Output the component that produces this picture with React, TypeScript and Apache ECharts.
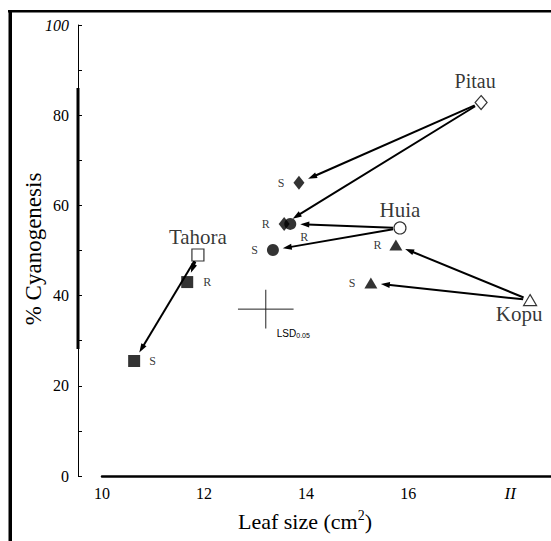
import React, { useEffect, useRef } from "react";
import * as echarts from "echarts";

// Cultivars: parent (open symbol) and its R / S derivatives (filled symbols)
const cultivars = ["Tahora", "Pitau", "Huia", "Kopu"];
const symbols = ["rect", "diamond", "circle", "triangle"];
const parentX = [11.88, 17.43, 15.84, 18.39];
const parentY = [49.0, 82.8, 55.0, 39.0];
const rX = [11.67, 13.57, 13.69, 15.76];
const rY = [43.0, 55.9, 55.9, 51.2];
const sX = [10.63, 13.86, 13.35, 15.27];
const sY = [25.5, 65.0, 50.1, 42.8];

// LSD(0.05) cross: centre x, centre y, half-width (x), half-height (y)
const lsd = [13.21, 37.0, 0.545, 4.3];

const xTicks = [10, 12, 14, 16, 18];
const xTickLabels = ["10", "12", "14", "16", "II"];
const yTickLabels = ["0", "20", "40", "60", "80", "100"];

const SERIF = "'Liberation Serif', 'DejaVu Serif', serif";

export default function App() {
  const ref = useRef<HTMLDivElement>(null);

  useEffect(() => {
    if (!ref.current) return;
    const chart = echarts.init(ref.current, null, { renderer: "svg" });

    const symSize = (i: number, open: boolean) => {
      if (symbols[i] === "diamond") return open ? [12, 14] : [11, 14];
      if (symbols[i] === "triangle") return [13, 11];
      return 12;
    };

    const parentLabel = [
      { position: "top", distance: 1, offset: [0, 0], fontSize: 21 },
      { position: "top", distance: 4, offset: [-6, 0], fontSize: 20 },
      { position: "top", distance: 1, offset: [0, 0], fontSize: 21 },
      { position: "bottom", distance: 0, offset: [-11, -3], fontSize: 21 },
    ];
    const rLabel = [
      { position: "right", distance: 10, offset: [0, 0] },
      { position: "left", distance: 9, offset: [0, 0] },
      { position: "inside", distance: 0, offset: [14, 13] },
      { position: "left", distance: 8, offset: [0, 0] },
    ];
    const sLabel = [
      { position: "right", distance: 9, offset: [0, 0] },
      { position: "left", distance: 9, offset: [0, 0] },
      { position: "left", distance: 9, offset: [0, 0] },
      { position: "left", distance: 9, offset: [0, 0] },
    ];

    const parentData = cultivars.map((c, i) => ({
      name: c,
      value: [parentX[i], parentY[i]],
      symbol: symbols[i],
      symbolSize: symSize(i, true),
      label: {
        show: true,
        formatter: c,
        position: parentLabel[i].position,
        distance: parentLabel[i].distance,
        offset: parentLabel[i].offset,
        fontSize: parentLabel[i].fontSize,
        fontFamily: SERIF,
        color: "#000",
      },
    }));
    const rData = cultivars.map((c, i) => ({
      name: c + " R",
      value: [rX[i], rY[i]],
      symbol: symbols[i],
      symbolSize: symSize(i, false),
      label: {
        show: true,
        formatter: "R",
        position: rLabel[i].position,
        distance: rLabel[i].distance,
        offset: rLabel[i].offset,
        fontSize: 12,
        fontFamily: SERIF,
        color: "#000",
      },
    }));
    const sData = cultivars.map((c, i) => ({
      name: c + " S",
      value: [sX[i], sY[i]],
      symbol: symbols[i],
      symbolSize: symSize(i, false),
      label: {
        show: true,
        formatter: "S",
        position: sLabel[i].position,
        distance: sLabel[i].distance,
        offset: sLabel[i].offset,
        fontSize: 12,
        fontFamily: SERIF,
        color: "#000",
      },
    }));

    const arrowData: number[][] = [];
    cultivars.forEach((_, i) => {
      arrowData.push([parentX[i], parentY[i], rX[i], rY[i]]);
      arrowData.push([parentX[i], parentY[i], sX[i], sY[i]]);
    });

    const option: any = {
      animation: false,
      backgroundColor: "#fff",
      grid: { left: 102, top: 25, right: 0, height: 451, containLabel: false },
      xAxis: {
        type: "value",
        min: 10,
        max: 18.8,
        interval: 2,
        axisLine: { show: true, lineStyle: { color: "#000", width: 2.5 } },
        axisTick: { show: false },
        splitLine: { show: false },
        axisLabel: {
          showMaxLabel: false,
          margin: 9,
          fontSize: 16,
          fontFamily: SERIF,
          color: "#000",
          formatter: (v: number) => {
            const k = xTicks.indexOf(v);
            if (k < 0) return "";
            const t = xTickLabels[k];
            return t === "II" ? "{i|" + t + "}" : t;
          },
          rich: { i: { fontStyle: "italic", fontSize: 17, fontFamily: SERIF, color: "#000" } },
        },
      },
      yAxis: {
        type: "value",
        min: 0,
        max: 100,
        interval: 10,
        offset: 24,
        axisLine: { show: true, lineStyle: { color: "#000", width: 1 } },
        axisTick: { show: true, inside: true, length: 4, lineStyle: { color: "#000", width: 1 } },
        splitLine: { show: false },
        axisLabel: {
          margin: 9,
          fontSize: 16,
          fontFamily: SERIF,
          color: "#000",
          formatter: (v: number) => {
            const t = String(v);
            if (yTickLabels.indexOf(t) < 0) return "";
            return t === "100" ? "{i|" + t + "}" : t;
          },
          rich: { i: { fontStyle: "italic", fontSize: 16, fontFamily: SERIF, color: "#000" } },
        },
      },
      graphic: [
        { type: "rect", shape: { x: 8, y: 10, width: 543, height: 2.5 }, style: { fill: "#000" } },
        { type: "rect", shape: { x: 8.5, y: 10, width: 3.5, height: 531 }, style: { fill: "#000" } },
        { type: "rect", shape: { x: 76.5, y: 88, width: 3, height: 261 }, style: { fill: "#000" } },
        {
          type: "text",
          x: 33,
          y: 249,
          rotation: Math.PI / 2,
          style: {
            text: "% Cyanogenesis",
            fontSize: 23,
            fontFamily: SERIF,
            fill: "#000",
            align: "center",
            verticalAlign: "middle",
          },
        },
        {
          type: "text",
          x: 305,
          y: 521,
          style: {
            text: "{a|Leaf size (cm}{s|2}{a|)}",
            rich: {
              a: { fontSize: 22, fontFamily: SERIF, fill: "#000", color: "#000" },
              s: { fontSize: 14, fontFamily: SERIF, fill: "#000", color: "#000", verticalAlign: "top", padding: [0, 0, 12, 0] },
            },
            align: "center",
            verticalAlign: "middle",
          },
        },
      ],
      series: [
        {
          type: "custom",
          name: "arrows",
          coordinateSystem: "cartesian2d",
          encode: { x: [0, 2], y: [1, 3] },
          data: arrowData,
          z: 1,
          renderItem: (params: any, api: any) => {
            const a = api.coord([api.value(0), api.value(1)]);
            const b = api.coord([api.value(2), api.value(3)]);
            const dx = b[0] - a[0];
            const dy = b[1] - a[1];
            const L = Math.hypot(dx, dy) || 1;
            const ux = dx / L;
            const uy = dy / L;
            const s = [a[0] + ux * 7, a[1] + uy * 7];
            const e = [b[0] - ux * 10, b[1] - uy * 10];
            const h = 9;
            const w = 3;
            const base = [e[0] - ux * h, e[1] - uy * h];
            const p1 = [base[0] - uy * w, base[1] + ux * w];
            const p2 = [base[0] + uy * w, base[1] - ux * w];
            return {
              type: "group",
              children: [
                {
                  type: "line",
                  shape: { x1: s[0], y1: s[1], x2: base[0] + ux * 2, y2: base[1] + uy * 2 },
                  style: { stroke: "#000", lineWidth: 2 },
                },
                { type: "polygon", shape: { points: [e, p1, p2] }, style: { fill: "#000" } },
              ],
            };
          },
        },
        {
          type: "custom",
          name: "LSD",
          coordinateSystem: "cartesian2d",
          encode: { x: 0, y: 1 },
          data: [lsd],
          z: 1,
          renderItem: (params: any, api: any) => {
            const cx = api.value(0);
            const cy = api.value(1);
            const hx = api.value(2);
            const hy = api.value(3);
            const l = api.coord([cx - hx, cy]);
            const r = api.coord([cx + hx, cy]);
            const t = api.coord([cx, cy + hy]);
            const b = api.coord([cx, cy - hy]);
            const c = api.coord([cx, cy]);
            return {
              type: "group",
              children: [
                { type: "line", shape: { x1: l[0], y1: l[1], x2: r[0], y2: r[1] }, style: { stroke: "#222", lineWidth: 1 } },
                { type: "line", shape: { x1: t[0], y1: t[1], x2: b[0], y2: b[1] }, style: { stroke: "#222", lineWidth: 1 } },
                {
                  type: "text",
                  x: c[0] + 11,
                  y: c[1] + 24,
                  style: {
                    text: "{a|LSD}{b|0.05}",
                    rich: {
                      a: { fontSize: 10, fontFamily: "'Liberation Sans', Arial, sans-serif", fill: "#000" },
                      b: { fontSize: 7, fontFamily: "'Liberation Sans', Arial, sans-serif", fill: "#000", padding: [4, 0, 0, 0] },
                    },
                    verticalAlign: "middle",
                    align: "left",
                  },
                },
              ],
            };
          },
        },
        {
          type: "scatter",
          name: "parent",
          data: parentData,
          z: 3,
          itemStyle: { color: "#fff", borderColor: "#000", borderWidth: 1.2 },
        },
        {
          type: "scatter",
          name: "R",
          data: rData,
          z: 3,
          itemStyle: { color: "#000" },
        },
        {
          type: "scatter",
          name: "S",
          data: sData,
          z: 3,
          itemStyle: { color: "#000" },
        },
      ],
    };

    chart.setOption(option);
    return () => chart.dispose();
  }, []);

  return (
    <div
      ref={ref}
      style={{ position: "fixed", left: 0, top: 0, width: 551, height: 541, background: "#fff" }}
    />
  );
}
